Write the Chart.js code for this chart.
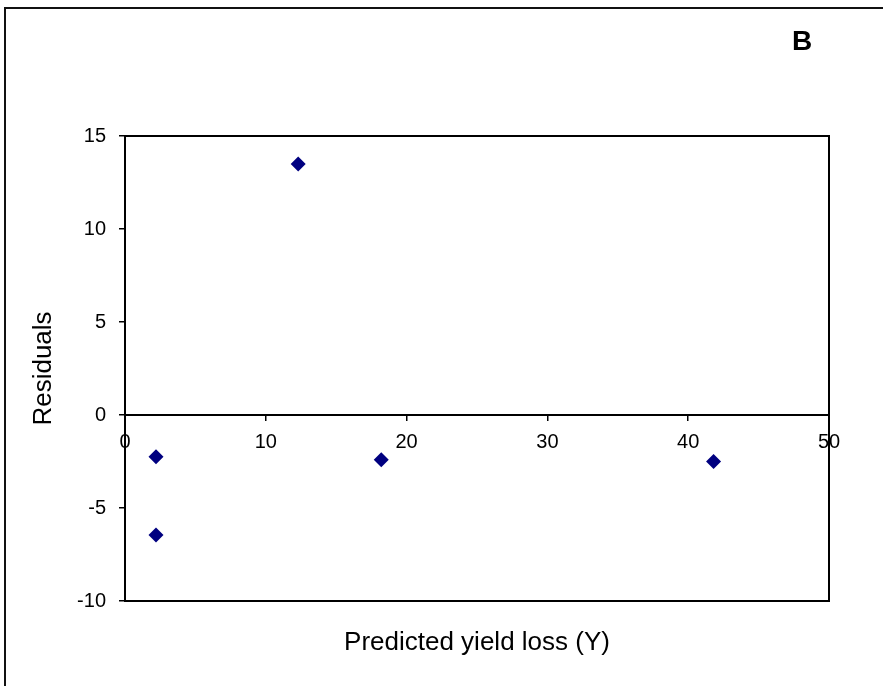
<!DOCTYPE html>
<html>
<head>
<meta charset="utf-8">
<style>
  html, body { margin: 0; padding: 0; background: #fff; }
  #wrap { width: 883px; height: 686px; }
</style>
<script src="https://cdn.jsdelivr.net/npm/chart.js@4"></script>
</head>
<body>
<div id="wrap"><canvas id="residus" width="883" height="686"></canvas></div>
<script>
// Predicted yield loss (x) against residuals (y)
const predictedLoss = [2.2, 2.2, 12.3, 18.2, 41.8];
const residuals = [-2.25, -6.45, 13.5, -2.4, -2.5];

const xTicks = [0, 10, 20, 30, 40, 50];
const yTicks = [-10, -5, 0, 5, 10, 15];

const points = predictedLoss.map((x, i) => ({ x: x, y: residuals[i] }));

const FONT = "'Liberation Sans', Arial, sans-serif";

// cadre extérieur + contour de la zone de tracé + lettre du panneau
const decor = {
    id: "decor",
    beforeDraw(chart) {
        const ctx = chart.ctx;
        ctx.save();
        ctx.strokeStyle = "#111";
        ctx.lineWidth = 2;
        ctx.beginPath();
        ctx.moveTo(5, 700);
        ctx.lineTo(5, 8);
        ctx.lineTo(900, 8);
        ctx.stroke();
        ctx.restore();
    },
    afterDraw(chart) {
        const { ctx, chartArea: a } = chart;
        ctx.save();
        ctx.strokeStyle = "#000";
        ctx.lineWidth = 2;
        ctx.strokeRect(a.left, a.top, a.right - a.left, a.bottom - a.top);
        ctx.fillStyle = "#000";
        ctx.font = "bold 28px " + FONT;
        ctx.textAlign = "center";
        ctx.textBaseline = "middle";
        ctx.fillText("B", 802, 42);
        ctx.restore();
    }
};

new Chart(document.getElementById("residus"), {
    type: "scatter",
    data: {
        datasets: [{
            label: "Residuals",
            data: points,
            pointStyle: "rectRot",
            pointRadius: 7.5,
            pointHoverRadius: 7.5,
            backgroundColor: "#000080",
            borderColor: "#000080",
            borderWidth: 0
        }]
    },
    options: {
        responsive: false,
        animation: false,
        layout: { padding: { left: 0, top: 136, right: 54, bottom: 0 } },
        plugins: { legend: { display: false }, tooltip: { enabled: false } },
        scales: {
            x: {
                type: "linear",
                position: { y: 0 },
                min: 0,
                max: 50,
                afterBuildTicks: s => { s.ticks = xTicks.map(v => ({ value: v })); },
                afterFit: s => { s.height = 0; },
                grid: { drawOnChartArea: false, tickLength: 5, color: "#000", lineWidth: 1.5 },
                border: { display: true, color: "#000", width: 2 },
                ticks: { color: "#000", font: { family: FONT, size: 20 }, padding: 10, maxRotation: 0 }
            },
            xTitre: {
                type: "linear",
                axis: "x",
                position: "bottom",
                afterFit: s => { s.height = 85; },
                grid: { display: false, drawTicks: false },
                border: { display: false },
                ticks: { display: false },
                title: {
                    display: true,
                    text: "Predicted yield loss (Y)",
                    color: "#000",
                    font: { family: FONT, size: 26 },
                    padding: { top: 0, bottom: 28 }
                }
            },
            y: {
                type: "linear",
                position: "left",
                min: -10,
                max: 15,
                afterBuildTicks: s => { s.ticks = yTicks.map(v => ({ value: v })); },
                afterFit: s => { s.width = 125; },
                grid: { drawOnChartArea: false, tickLength: 6, color: "#000", lineWidth: 1.5 },
                border: { display: true, color: "#000", width: 2 },
                ticks: { color: "#000", font: { family: FONT, size: 20 }, padding: 13 },
                title: {
                    display: true,
                    text: "Residuals",
                    color: "#000",
                    font: { family: FONT, size: 26 },
                    padding: { top: 28, bottom: 0 }
                }
            }
        }
    },
    plugins: [decor]
});
</script>
</body>
</html>
